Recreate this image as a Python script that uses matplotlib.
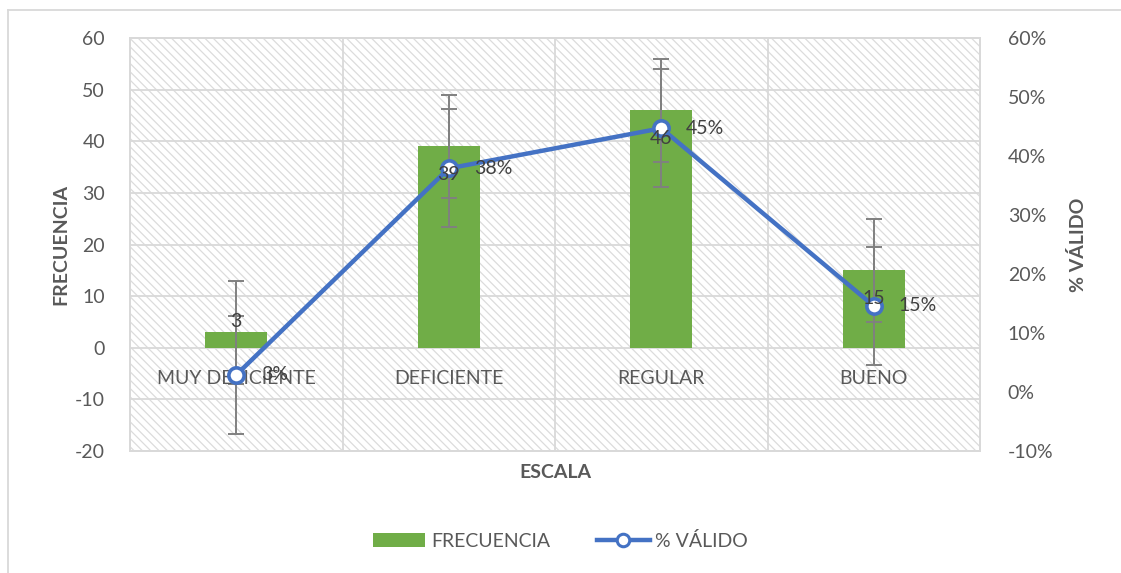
import matplotlib
matplotlib.use("Agg")
import matplotlib.pyplot as plt
from matplotlib.patches import Rectangle
from matplotlib.lines import Line2D
from matplotlib.patches import Patch
from matplotlib.ticker import FuncFormatter, MultipleLocator

# data
categories = ["MUY DEFICIENTE", "DEFICIENTE", "REGULAR", "BUENO"]
frecuencia = [3, 39, 46, 15]
pct_valido = [0.029, 0.379, 0.447, 0.146]
pct_labels = ["3%", "38%", "45%", "15%"]
err_frec = 10
err_pct = 0.10

GREEN = "#70AD47"
BLUE = "#4472C4"
GRID = "#D9D9D9"
TXT = "#595959"
LBL = "#404040"
ERR = "#808080"
FS = 14

plt.rcParams["font.family"] = ["Lato", "DejaVu Sans"]
plt.rcParams["axes.unicode_minus"] = False
plt.rcParams["hatch.color"] = "#DCDCDC"
plt.rcParams["hatch.linewidth"] = 0.9

fig = plt.figure(figsize=(11.21, 5.73), dpi=100)
ax = fig.add_axes([130 / 1121, 1 - 451 / 573, 850 / 1121, 413 / 573])
ax2 = ax.twinx()

x = list(range(len(categories)))

# hatched plot area
ax.add_patch(Rectangle((0, 0), 1, 1, transform=ax.transAxes, facecolor="white",
                       edgecolor="#DCDCDC", hatch="\\\\\\\\", lw=0, zorder=0))

ax.set_xlim(-0.5, 3.5)
ax.set_ylim(-20, 60)
ax.yaxis.set_major_locator(MultipleLocator(10))
for yv in range(-20, 61, 10):
    ax.axhline(yv, color=GRID, lw=1.3, zorder=1)
for xv in [0.5, 1.5, 2.5]:
    ax.axvline(xv, color=GRID, lw=1.3, zorder=1)

ax.bar(x, frecuencia, width=0.29, color=GREEN, zorder=2)
ax.errorbar(x, frecuencia, yerr=err_frec, fmt="none", ecolor=ERR, elinewidth=1.4,
            capsize=6, capthick=1.4, zorder=3)

# category labels sit at the zero line
for xi, c in zip(x, categories):
    ax.annotate(c, (xi, 0), xytext=(0, -22), textcoords="offset points",
                ha="center", va="center", fontsize=FS, color=TXT, zorder=5)

ax2.set_ylim(-0.10, 0.60)
ax2.yaxis.set_major_locator(MultipleLocator(0.10))
ax2.yaxis.set_major_formatter(FuncFormatter(lambda v, p: f"{v * 100:.0f}%"))
ax2.errorbar(x, pct_valido, yerr=err_pct, fmt="none", ecolor=ERR, elinewidth=1.4,
             capsize=6, capthick=1.4, zorder=3)
ax2.plot(x, pct_valido, color=BLUE, lw=3.2, marker="o", markersize=11,
         markerfacecolor="white", markeredgecolor=BLUE, markeredgewidth=2.6, zorder=4)
for xi, v, s in zip(x, pct_valido, pct_labels):
    ax2.annotate(s, (xi, v), xytext=(18, 0), textcoords="offset points",
                 ha="left", va="center", fontsize=FS, color=LBL, zorder=5)

# bar value labels drawn on top of the line
for xi, v in zip(x, frecuencia):
    off = 8 if v < 8 else -20
    ax2.annotate(str(v), (xi, v), xycoords=ax.transData, xytext=(0, off),
                 textcoords="offset points", ha="center", va="center",
                 fontsize=FS, color=LBL, zorder=6)

for a in (ax, ax2):
    for sp in a.spines.values():
        sp.set_color(GRID)
        sp.set_linewidth(1.3)
    a.tick_params(length=0, labelsize=FS, labelcolor=TXT)
ax.tick_params(axis="y", pad=18)
ax2.tick_params(axis="y", pad=20)
ax.set_xticks([])

ax.set_ylabel("FRECUENCIA", fontsize=FS, fontweight="bold", color=TXT, labelpad=4)
ax2.set_ylabel("% VÁLIDO", fontsize=FS, fontweight="bold", color=TXT,
               rotation=90, labelpad=11)
ax.set_xlabel("ESCALA", fontsize=FS, fontweight="bold", color=TXT, labelpad=9)

handles = [Patch(facecolor=GREEN, label="FRECUENCIA"),
           Line2D([], [], color=BLUE, lw=3.2, marker="o", markersize=9,
                  markerfacecolor="white", markeredgecolor=BLUE, markeredgewidth=2.2,
                  label="% VÁLIDO")]
leg = fig.legend(handles=handles, loc="center", bbox_to_anchor=(0.5, 1 - 541 / 573),
                 ncol=2, frameon=False, fontsize=FS, handlelength=2.7,
                 columnspacing=2.4, handletextpad=0.3)
for t in leg.get_texts():
    t.set_color(TXT)

# chart border (left and top edges visible)
fig.add_artist(Line2D([8 / 1121, 8 / 1121], [0, 1 - 10 / 573], color=GRID, lw=1.3))
fig.add_artist(Line2D([8 / 1121, 1], [1 - 10 / 573, 1 - 10 / 573], color=GRID, lw=1.3))

fig.savefig("out.png", dpi=100)
